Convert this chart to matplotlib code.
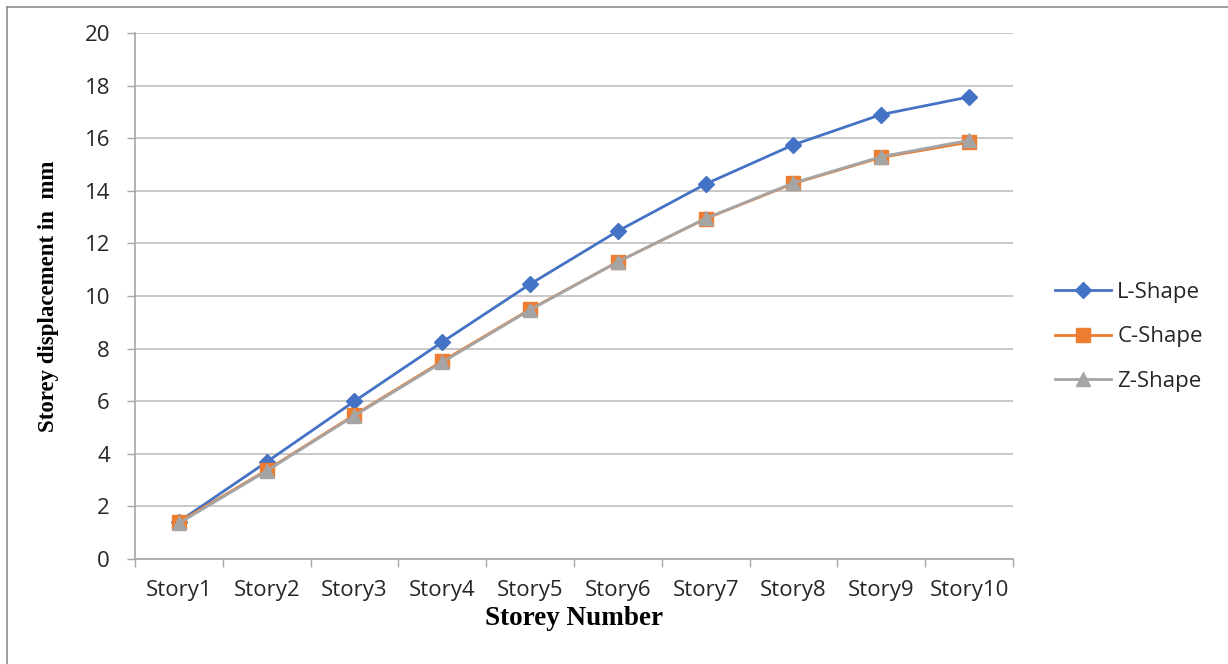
import matplotlib.pyplot as plt
from matplotlib.lines import Line2D

stories = ["Story1", "Story2", "Story3", "Story4", "Story5",
           "Story6", "Story7", "Story8", "Story9", "Story10"]
l_shape = [1.42, 3.69, 6.0, 8.25, 10.45, 12.47, 14.26, 15.75, 16.9, 17.57]
c_shape = [1.40, 3.38, 5.48, 7.52, 9.49, 11.30, 12.94, 14.28, 15.27, 15.85]
z_shape = [1.36, 3.35, 5.45, 7.48, 9.47, 11.30, 12.95, 14.30, 15.30, 15.92]

series = [
    ("L-Shape", l_shape, "#4472C4", "D", 8.5),
    ("C-Shape", c_shape, "#ED7D31", "s", 10),
    ("Z-Shape", z_shape, "#A5A5A5", "^", 10),
]

tick_font = "Open Sans"
label_font = "Liberation Serif"

fig = plt.figure(figsize=(12.28, 6.64), dpi=100)
ax = fig.add_axes([0.1099, 0.1581, 0.7150, 0.7922])

x = list(range(len(stories)))
for name, vals, color, marker, ms in series:
    ax.plot(x, vals, color=color, lw=2.0, marker=marker, markersize=ms,
            markeredgecolor=color, label=name, zorder=3)

ax.set_xlim(-0.5, len(stories) - 0.5)
ax.set_ylim(0, 20)
ax.set_yticks(range(0, 21, 2))
ax.set_xticks(x)
ax.set_xticklabels(stories)
ax.set_xticks([i - 0.5 for i in range(len(stories) + 1)], minor=True)
ax.tick_params(axis="x", which="major", length=0, pad=15)
ax.tick_params(axis="x", which="minor", length=6, color="#A6A6A6", width=1)
ax.tick_params(axis="y", length=6, color="#A6A6A6", width=1, pad=12)
for lab in ax.get_xticklabels() + ax.get_yticklabels():
    lab.set_fontfamily(tick_font)
    lab.set_fontsize(16)
    lab.set_color("#262626")

ax.grid(axis="y", color="#BFBFBF", lw=1.2, zorder=0)
for side in ["top", "right"]:
    ax.spines[side].set_visible(False)
for side in ["left", "bottom"]:
    ax.spines[side].set_color("#A6A6A6")
    ax.spines[side].set_linewidth(1.2)

ax.set_xlabel("Storey Number", fontfamily=label_font, fontweight="bold",
              fontsize=19.5, labelpad=4)
ax.set_ylabel("Storey displacement in  mm", fontfamily=label_font,
              fontweight="bold", fontsize=16.5, labelpad=18)

handles = [Line2D([0], [0], color=c, lw=2.0, marker=m, markersize=ms,
                  markeredgecolor=c) for _, _, c, m, ms in series]
leg = fig.legend(handles, [s[0] for s in series], loc="center left",
                 bbox_to_anchor=(1055 / 1228, 1 - 337 / 664), frameon=False,
                 prop={"family": tick_font, "size": 16},
                 handlelength=2.5, labelspacing=1.05, handletextpad=0.3,
                 borderpad=0, borderaxespad=0)
for t in leg.get_texts():
    t.set_color("#262626")

# outer frame (left and top edges only)
fig.add_artist(Line2D([7 / 1228, 7 / 1228], [0, 1 - 7 / 664],
                      transform=fig.transFigure, color="#8C8C8C", lw=1.2))
fig.add_artist(Line2D([7 / 1228, 1], [1 - 7 / 664, 1 - 7 / 664],
                      transform=fig.transFigure, color="#8C8C8C", lw=1.2))

fig.savefig("out.png", dpi=100)
